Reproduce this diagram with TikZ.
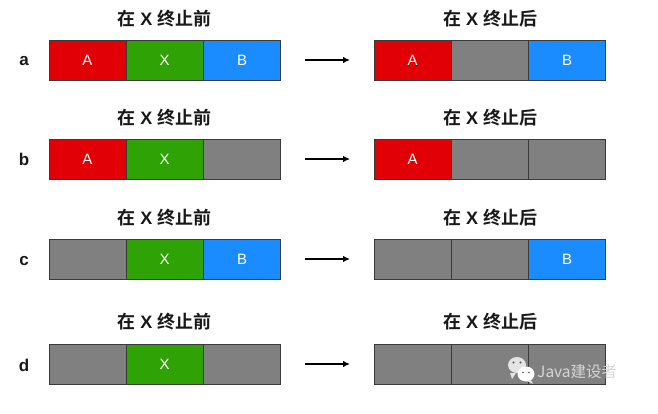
\documentclass[tikz,border=0pt]{standalone}
\usepackage{fontspec}
\setmainfont{Liberation Sans}
\newfontfamily\cjk{Noto Sans CJK SC}
\newfontfamily\cjkb{Noto Sans CJK SC Bold}
\usetikzlibrary{arrows.meta}
\definecolor{cA}{HTML}{E00006}
\definecolor{cX}{HTML}{2FA305}
\definecolor{cB}{HTML}{1A8CFF}
\definecolor{cG}{HTML}{808080}
\definecolor{edgeC}{HTML}{3A3A3A}
\definecolor{wm}{HTML}{E4E4E4}
\definecolor{wmt}{HTML}{D6D6D6}
\tikzset{
  x=1pt,y=-1pt,
  cellbox/.style={draw=edgeC,line width=0.6pt,minimum width=77pt,minimum height=40pt,inner sep=0pt,outer sep=0pt,text=white,font=\fontsize{15}{15}\selectfont},
  titletext/.style={font=\cjkb\fontsize{18}{18}\selectfont,text=black!90,inner sep=0pt},
  rowlabel/.style={font=\bfseries\fontsize{17}{17}\selectfont,text=black!90,inner sep=0pt},
  flow/.style={draw=black,line width=1.2pt,-{Latex[length=7pt,width=6.5pt]}},
}
\newcommand{\wsp}{\hspace{5pt}}
\newcommand{\bigX}{{\fontspec{Liberation Sans Bold}X}}
\begin{document}
\begin{tikzpicture}
\useasboundingbox (0,0) rectangle (658,414);
\fill[white] (0,0) rectangle (658,414);
\foreach \id/\lab/\yy/\ly/\ty/\la/\lb/\lc/\ta/\tc/\ra/\rc/\tra/\trc in {
  a/a/60/61/19/cA/cX/cB/A/B/cA/cB/A/B,
  b/b/159/159/118/cA/cX/cG/A//cA/cG/A/,
  c/c/259/261/218/cG/cX/cB//B/cG/cB//B,
  d/d/364/365/322/cG/cX/cG///cG/cG//}{
  \node[rowlabel] (lab\id) at (24,\ly) {\lab};
  \node[titletext] (tl\id) at (164.5,\ty) {在\wsp\bigX\wsp 终止前};
  \node[titletext] (tr\id) at (490,\ty) {在\wsp\bigX\wsp 终止后};
  \node[cellbox,fill=\la] (l1\id) at (87.5,\yy) {\ta};
  \node[cellbox,fill=\lb] (l2\id) at (164.5,\yy) {X};
  \node[cellbox,fill=\lc] (l3\id) at (242,\yy) {\tc};
  \node[cellbox,fill=\ra] (r1\id) at (412.5,\yy) {\tra};
  \node[cellbox,fill=cG] (r2\id) at (489.5,\yy) {};
  \node[cellbox,fill=\rc] (r3\id) at (567,\yy) {\trc};
  \coordinate (as\id) at (305,\yy);
  \coordinate (ae\id) at (350,\yy);
  \draw[flow] (as\id) -- (ae\id);
}
% watermark
\fill[wm] (517,365) ellipse (9 and 8);
\fill[wm] (510,373) -- (512,379) -- (516,373) -- cycle;
\fill[white] (526,374) ellipse (8.5 and 7.5);
\fill[wm] (531,380) -- (533,384) -- (527,381) -- cycle;
\fill[cG!70!black] (513.5,362.5) circle (1.1) (520.5,362.5) circle (1.1) (523,372.5) circle (0.9) (529,372.5) circle (0.9);
\node[inner sep=0pt,text=wmt,anchor=west,font=\cjk\fontsize{15.5}{16}\selectfont] (wmtext) at (537,372) {Java建设者};
\end{tikzpicture}
\end{document}
